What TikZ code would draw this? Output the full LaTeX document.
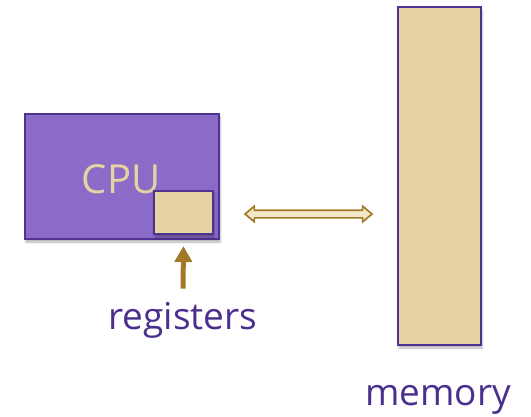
\documentclass[tikz,border=0pt]{standalone}
\usepackage{fontspec}
\setmainfont{Open Sans}
\usetikzlibrary{arrows.meta,shapes.arrows,shadows.blur}

\definecolor{cpufill}{HTML}{8C6BC8}
\definecolor{edge}{HTML}{4E3391}
\definecolor{sand}{HTML}{E6D3A3}
\definecolor{gold}{HTML}{A07A28}
\definecolor{busfill}{HTML}{F3E8C8}
\definecolor{ink}{HTML}{4B2F8F}

\tikzset{
	box/.style={draw=edge, line width=2pt, inner sep=0pt,
		blur shadow={shadow xshift=1pt, shadow yshift=-3pt, shadow opacity=30, shadow blur steps=6}},
	txt/.style={text=ink, inner sep=0pt, anchor=base, font=\fontsize{37}{42}\selectfont}
}

\begin{document}
\begin{tikzpicture}[x=1pt, y=-1pt]
	\useasboundingbox (0,0) rectangle (531,416);
	% processor with its register file
	\node[box, fill=cpufill, minimum width=194pt, minimum height=125pt] (cpu) at (122,176.5) {};
	\node[text=sand, inner sep=0pt, anchor=base, font=\fontsize{40}{45}\selectfont] (cpulbl) at (121,193) {CPU};
	\node[box, fill=sand, minimum width=59pt, minimum height=43pt] (reg) at (183.5,212.5) {};
	\node[txt] (regs) at (183,329) {registers};
	\draw[gold, line width=5pt, -{Triangle[length=16pt, width=17pt]}, shorten <=13pt, shorten >=11pt] (regs.north) -- (reg.south);
	% main memory
	\node[box, fill=sand, minimum width=83pt, minimum height=338pt] (mem) at (439.5,176) {};
	\node[txt] (memlbl) at (438,405) {memory};
	% bus between the two
	\node[double arrow, draw=gold, fill=busfill, line width=1.7pt, inner sep=3pt, text height=0pt, text depth=0pt,
		double arrow head extend=4pt, double arrow tip angle=80, minimum height=127pt] (bus) at (308.5,214) {};
\end{tikzpicture}
\end{document}
